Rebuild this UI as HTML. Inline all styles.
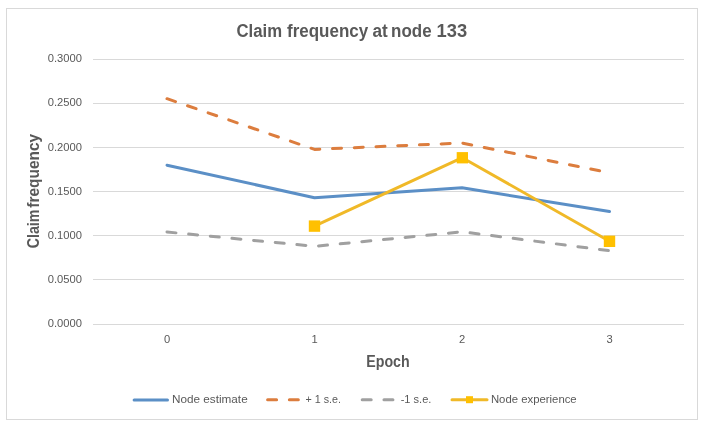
<!DOCTYPE html>
<html>
<head>
<meta charset="utf-8">
<title>Claim frequency at node 133</title>
<style>
html,body{margin:0;padding:0;background:#fff;}
body{width:703px;height:425px;overflow:hidden;}
svg{display:block;}
text{font-family:"Liberation Sans",Arial,sans-serif;fill:#595959;}
svg{will-change:transform;}
.tick{font-size:11.2px;}
.leg{font-size:11.3px;}
.ttl{font-size:18px;font-weight:bold;}
.axt{font-size:16px;font-weight:bold;}
</style>
</head>
<body>
<svg width="703" height="425" viewBox="0 0 703 425">
  <rect x="0" y="0" width="703" height="425" fill="#fff"/>
  <!-- chart border -->
  <rect x="6.5" y="8.5" width="691" height="411" fill="#fff" stroke="#d9d9d9" stroke-width="1"/>

  <!-- title -->
  <g class="ttl">
    <text x="236.5" y="36.9" textLength="45.6" lengthAdjust="spacingAndGlyphs">Claim</text>
    <text x="287" y="36.9" textLength="81.2" lengthAdjust="spacingAndGlyphs">frequency</text>
    <text x="372.4" y="36.9" textLength="15.3" lengthAdjust="spacingAndGlyphs">at</text>
    <text x="391.1" y="36.9" textLength="40.5" lengthAdjust="spacingAndGlyphs">node</text>
    <text x="436.5" y="36.9" textLength="30.6" lengthAdjust="spacingAndGlyphs">133</text>
  </g>

  <!-- gridlines -->
  <g stroke="#d9d9d9" stroke-width="1" shape-rendering="crispEdges">
    <line x1="93.2" y1="59.5" x2="684" y2="59.5"/>
    <line x1="93.2" y1="103.5" x2="684" y2="103.5"/>
    <line x1="93.2" y1="147.5" x2="684" y2="147.5"/>
    <line x1="93.2" y1="191.5" x2="684" y2="191.5"/>
    <line x1="93.2" y1="235.5" x2="684" y2="235.5"/>
    <line x1="93.2" y1="279.5" x2="684" y2="279.5"/>
    <line x1="93.2" y1="324.5" x2="684" y2="324.5"/>
  </g>

  <!-- y tick labels -->
  <g class="tick" text-anchor="end">
    <text x="82" y="61.8">0.3000</text>
    <text x="82" y="105.8">0.2500</text>
    <text x="82" y="150.8">0.2000</text>
    <text x="82" y="194.8">0.1500</text>
    <text x="82" y="238.8">0.1000</text>
    <text x="82" y="282.8">0.0500</text>
    <text x="82" y="326.7">0.0000</text>
  </g>

  <!-- x tick labels -->
  <g class="tick" text-anchor="middle">
    <text x="167.2" y="343">0</text>
    <text x="314.5" y="343">1</text>
    <text x="462" y="343">2</text>
    <text x="609.5" y="343">3</text>
  </g>

  <!-- axis titles -->
  <text class="axt" x="366.3" y="367.1" textLength="43.4" lengthAdjust="spacingAndGlyphs">Epoch</text>
  <g class="axt" transform="translate(39,0) rotate(-90)">
    <text x="-248.3" y="0" textLength="38.65" lengthAdjust="spacingAndGlyphs">Claim</text>
    <text x="-207.75" y="0" textLength="73.9" lengthAdjust="spacingAndGlyphs">frequency</text>
  </g>

  <!-- series -->
  <g fill="none" stroke-width="3" stroke-linecap="round" stroke-linejoin="round">
    <polyline stroke="#5b8fc6" points="167,165.2 314.5,197.7 462,187.8 609.5,211.4"/>
    <polyline stroke="#dc7d3e" stroke-dasharray="9 12.75" points="167,98.7 314.5,149.4 462,143 609.5,172.8"/>
    <polyline stroke="#a0a0a0" stroke-dasharray="9 12.75" points="167,232 314.5,246.3 462,231.8 609.5,250.7"/>
    <polyline stroke="#f0b928" points="314.4,226.1 462.35,157.7 609.5,241.3"/>
  </g>
  <g fill="#ffc000">
    <rect x="308.8" y="220.4" width="11.4" height="11.4"/>
    <rect x="456.7" y="152.1" width="11.3" height="11.3"/>
    <rect x="603.8" y="235.6" width="11.4" height="11.4"/>
  </g>

  <!-- legend -->
  <g fill="none" stroke-width="3" stroke-linecap="round">
    <line x1="134.1" y1="400" x2="167.5" y2="400" stroke="#5b8fc6"/>
    <line x1="267.6" y1="399.8" x2="301" y2="399.8" stroke="#dc7d3e" stroke-dasharray="9 12.75"/>
    <line x1="362.2" y1="399.8" x2="395.6" y2="399.8" stroke="#a0a0a0" stroke-dasharray="9 12.75"/>
    <line x1="452" y1="399.7" x2="487" y2="399.7" stroke="#f0b928"/>
  </g>
  <rect x="466" y="396.2" width="7" height="7" fill="#ffc000"/>
  <g class="leg">
    <text x="171.97" y="402.9" textLength="75.7" lengthAdjust="spacingAndGlyphs">Node estimate</text>
    <text x="305.6" y="402.9" textLength="35.45" lengthAdjust="spacingAndGlyphs">+ 1 s.e.</text>
    <text x="400.7" y="402.9" textLength="30.7" lengthAdjust="spacingAndGlyphs">-1 s.e.</text>
    <text x="490.9" y="402.9" textLength="85.8" lengthAdjust="spacingAndGlyphs">Node experience</text>
  </g>
</svg>
</body>
</html>
